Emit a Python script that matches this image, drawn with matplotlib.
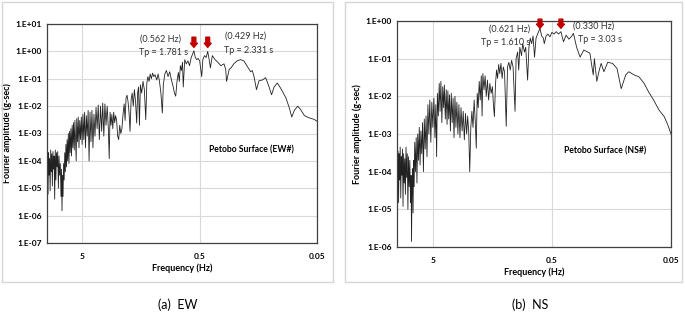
import numpy as np
import matplotlib
matplotlib.use('Agg')
import matplotlib.pyplot as plt
from matplotlib.patches import Rectangle
from matplotlib.ticker import FixedLocator, FuncFormatter, NullLocator

plt.rcParams['font.family'] = ['Lato', 'DejaVu Sans']

# Petobo surface record, EW component (frequency in Hz, amplitude in g-sec)
ew_freq = [10.0, 9.9, 9.8, 9.7, 9.6, 9.5, 9.4, 9.3, 9.2, 9.1,
           9.0, 8.9, 8.8, 8.7, 8.6, 8.5, 8.4, 8.3, 8.2, 8.1,
           8.0, 7.9, 7.8, 7.7, 7.6, 7.52, 7.45, 7.38, 7.3, 7.22,
           7.14, 7.06, 6.98, 6.9, 6.82, 6.74, 6.66, 6.58, 6.5, 6.42,
           6.34, 6.26, 6.18, 6.1, 6.02, 5.94, 5.86, 5.78, 5.7, 5.64,
           5.58, 5.5, 5.42, 5.34, 5.26, 5.18, 5.1, 5.02, 4.94, 4.86,
           4.78, 4.7, 4.62, 4.54, 4.46, 4.38, 4.3, 4.22, 4.14, 4.06,
           3.98, 3.9, 3.82, 3.74, 3.66, 3.58, 3.5, 3.42, 3.35, 3.28,
           3.21, 3.14, 3.07, 3.0, 2.95, 2.9, 2.85, 2.8, 2.75, 2.7,
           2.65, 2.6, 2.55, 2.5, 2.45, 2.4, 2.35, 2.3, 2.25, 2.2,
           2.16, 2.12, 2.08, 2.04, 2.0, 1.96, 1.92, 1.88, 1.84, 1.8,
           1.76, 1.72, 1.69, 1.66, 1.63, 1.6, 1.56, 1.52, 1.48, 1.44,
           1.41, 1.38, 1.35, 1.32, 1.29, 1.26, 1.23, 1.2, 1.16, 1.13,
           1.1, 1.07, 1.04, 1.02, 0.99, 0.96, 0.93, 0.9, 0.87, 0.84,
           0.82, 0.8, 0.78, 0.76, 0.745, 0.73, 0.715, 0.7, 0.69, 0.67,
           0.65, 0.63, 0.61, 0.59, 0.575, 0.56, 0.545, 0.53, 0.515, 0.5,
           0.48, 0.47, 0.455, 0.44, 0.427, 0.415, 0.405, 0.39, 0.37, 0.35,
           0.33, 0.31, 0.3, 0.295, 0.28, 0.27, 0.256, 0.24, 0.224, 0.21,
           0.196, 0.184, 0.178, 0.172, 0.164, 0.156, 0.146, 0.137, 0.128, 0.122,
           0.116, 0.109, 0.102, 0.092, 0.086, 0.082, 0.078, 0.073, 0.069, 0.064,
           0.058, 0.053, 0.05]
ew_amp = [2e-5, 1.5e-4, 6e-6, 2e-4, 3e-5, 1.2e-4, 8e-6, 2.5e-4, 4e-5, 1.8e-4,
          1.2e-5, 2.2e-4, 5e-5, 1.5e-4, 4e-6, 2.5e-4, 2e-5, 2e-4, 6e-5, 2.2e-4,
          1e-5, 1.5e-4, 3e-5, 8e-5, 5e-6, 5e-5, 1.5e-6, 3e-5, 5e-6, 8e-5,
          2e-5, 2e-4, 4e-5, 4e-4, 6e-5, 6e-4, 1e-4, 1e-3, 8e-5, 1.2e-3,
          2e-4, 1.5e-3, 1.5e-4, 2e-3, 3e-4, 2.5e-3, 2.5e-4, 3e-3, 4e-4, 1e-4,
          3.5e-3, 5e-4, 4e-3, 3e-4, 3e-3, 6e-4, 4e-3, 4e-4, 5e-3, 6e-4,
          6e-3, 3e-4, 4.5e-3, 8e-4, 7e-3, 1e-4, 6e-3, 5e-4, 7e-3, 3e-4,
          5e-3, 8e-4, 9e-3, 1.5e-3, 1.1e-2, 6e-4, 1e-2, 1.2e-3, 1.3e-2, 8e-4,
          1.2e-2, 2e-3, 1e-2, 1.5e-3, 1.2e-4, 6e-3, 2e-3, 5e-3, 1.5e-3, 6e-3,
          2.5e-3, 4.5e-3, 3e-3, 8e-4, 6e-4, 2e-3, 1e-3, 1.5e-3, 5e-3, 1.2e-2,
          3e-3, 2e-2, 2.5e-2, 1.5e-2, 6e-3, 1.2e-3, 1.7e-2, 3e-2, 1e-2, 4e-2,
          1.5e-2, 2.4e-3, 3e-2, 5e-2, 2e-3, 6e-2, 3e-2, 8e-2, 4e-2, 3.2e-3,
          7e-2, 0.12, 0.08, 0.15, 0.1, 0.16, 0.12, 0.14, 0.09, 0.15,
          0.08, 0.03, 5.6e-3, 0.06, 0.15, 0.2, 0.12, 0.18, 0.09, 0.05,
          0.03, 0.023, 0.08, 0.17, 0.08, 0.3, 0.2, 0.4, 0.05, 0.5,
          0.35, 0.45, 0.3, 0.6, 0.8, 1.05, 0.6, 0.5, 0.55, 0.45,
          0.12, 0.5, 0.7, 0.6, 1.0, 0.5, 0.25, 0.7, 0.5, 0.4,
          0.3, 0.35, 0.22, 0.08, 0.22, 0.25, 0.35, 0.45, 0.5, 0.45,
          0.28, 0.18, 0.2, 0.12, 0.04, 0.085, 0.09, 0.11, 0.05, 0.026,
          0.05, 0.07, 0.045, 0.02, 8.5e-3, 4e-3, 7e-3, 1e-2, 7.5e-3, 4.5e-3,
          3.7e-3, 3.3e-3, 2.8e-3]

# Petobo surface record, NS component
ns_freq = [10.0, 9.9, 9.8, 9.7, 9.6, 9.5, 9.4, 9.3, 9.2, 9.1,
           9.0, 8.9, 8.8, 8.7, 8.6, 8.5, 8.4, 8.3, 8.2, 8.1,
           8.0, 7.9, 7.8, 7.7, 7.62, 7.55, 7.48, 7.4, 7.33, 7.26,
           7.18, 7.1, 7.0, 6.9, 6.8, 6.7, 6.6, 6.5, 6.4, 6.3,
           6.2, 6.1, 6.0, 5.9, 5.8, 5.7, 5.6, 5.5, 5.4, 5.3,
           5.2, 5.1, 5.0, 4.9, 4.8, 4.72, 4.65, 4.58, 4.5, 4.42,
           4.35, 4.28, 4.2, 4.13, 4.06, 4.0, 3.93, 3.86, 3.8, 3.74,
           3.68, 3.62, 3.56, 3.5, 3.44, 3.38, 3.32, 3.26, 3.2, 3.14,
           3.08, 3.02, 2.96, 2.9, 2.84, 2.78, 2.72, 2.66, 2.6, 2.55,
           2.5, 2.45, 2.4, 2.35, 2.3, 2.25, 2.2, 2.16, 2.12, 2.08,
           2.04, 2.0, 1.96, 1.93, 1.9, 1.86, 1.82, 1.78, 1.74, 1.7,
           1.66, 1.62, 1.58, 1.55, 1.52, 1.49, 1.46, 1.43, 1.4, 1.37,
           1.34, 1.31, 1.28, 1.25, 1.21, 1.18, 1.15, 1.12, 1.09, 1.06,
           1.02, 1.0, 0.97, 0.95, 0.93, 0.9, 0.88, 0.85, 0.83, 0.8,
           0.78, 0.76, 0.74, 0.72, 0.7, 0.68, 0.66, 0.63, 0.61, 0.59,
           0.58, 0.56, 0.54, 0.52, 0.5, 0.48, 0.46, 0.44, 0.42, 0.4,
           0.38, 0.36, 0.34, 0.33, 0.31, 0.29, 0.27, 0.25, 0.24, 0.225,
           0.22, 0.21, 0.2, 0.193, 0.183, 0.17, 0.155, 0.142, 0.131, 0.12,
           0.113, 0.102, 0.093, 0.084, 0.077, 0.07, 0.063, 0.057, 0.053, 0.05]
ns_amp = [2e-4, 4e-5, 3.5e-4, 1.5e-5, 3e-4, 6e-5, 4.5e-4, 2e-5, 2.5e-4, 8e-5,
          4e-4, 1.2e-5, 3e-4, 5e-5, 2.2e-4, 2.5e-5, 4.5e-4, 7e-5, 3e-4, 1e-5,
          2.5e-4, 4e-5, 2e-4, 1.5e-5, 8e-5, 1.4e-6, 3e-5, 1.2e-4, 8e-6, 2e-4,
          4e-5, 6e-4, 1e-4, 8e-4, 5e-5, 1e-3, 2e-4, 1.5e-3, 1.5e-4, 1.2e-3,
          3e-4, 2e-3, 1e-4, 2.5e-3, 4e-4, 3e-3, 2.5e-4, 6e-3, 1e-3, 8e-3,
          6e-4, 7e-3, 1.5e-3, 9e-3, 8e-4, 6e-3, 2.5e-4, 1.2e-2, 3e-3, 2.2e-2,
          4e-3, 2.5e-2, 2e-3, 1.8e-2, 5e-3, 2e-2, 2.5e-3, 1.5e-2, 1.8e-3, 1.4e-2,
          2.5e-3, 1.1e-2, 1.2e-3, 1.2e-2, 2e-3, 9e-3, 8e-4, 1e-2, 1.5e-3, 7e-3,
          1e-3, 6e-3, 8e-4, 5e-3, 1.2e-3, 4e-3, 7e-4, 3.5e-3, 1e-3, 3e-3,
          1.2e-3, 1e-4, 1.5e-3, 4e-3, 1.5e-3, 8e-3, 2e-3, 4.2e-4, 1.2e-2, 5e-3,
          2.5e-2, 8e-3, 3.5e-2, 3e-3, 4e-2, 1.5e-2, 3.5e-2, 1e-2, 2.7e-2, 8e-3,
          2.2e-2, 1.2e-2, 1.8e-2, 6e-3, 2.9e-3, 2e-2, 5e-2, 3e-2, 7e-2, 4e-2,
          7.5e-2, 3e-2, 6e-2, 4.5e-2, 1.6e-3, 6e-2, 8e-2, 5e-2, 9e-2, 6e-2,
          4e-3, 0.1, 0.15, 0.05, 0.2, 0.12, 0.25, 0.15, 0.2, 0.027,
          0.2, 0.35, 0.25, 0.4, 0.11, 0.35, 0.45, 0.64, 0.4, 0.35,
          0.25, 0.4, 0.45, 0.38, 0.5, 0.45, 0.52, 0.45, 0.52, 0.28,
          0.42, 0.33, 0.4, 0.47, 0.2, 0.11, 0.17, 0.15, 0.14, 0.037,
          0.1, 0.025, 0.05, 0.075, 0.045, 0.08, 0.075, 0.055, 0.016, 0.037,
          0.045, 0.037, 0.033, 0.022, 0.013, 0.008, 4.3e-3, 2.9e-3, 1.7e-3, 1e-3]

x_ticks = [5, 0.5, 0.05]
x_tick_labels = ['5', '0.5', '0.05']

ew_decades = list(range(-7, 2))
ns_decades = list(range(-6, 1))

# peak arrows: frequency, tip amplitude, tail amplitude
ew_arrows = [(0.56, 1.4, 3.3), (0.427, 1.4, 3.3)]
ns_arrows = [(0.63, 0.64, 1.12), (0.42, 0.64, 1.12)]

ew_notes = [('(0.562 Hz)', 0.422, 0.932), ('Tp = 1.781 s', 0.43, 0.868),
            ('(0.429 Hz)', 0.737, 0.945), ('Tp = 2.331 s', 0.748, 0.877)]
ns_notes = [('(0.621 Hz)', 0.412, 0.965), ('Tp = 1.610 s', 0.398, 0.903),
            ('(0.330 Hz)', 0.719, 0.978), ('Tp = 3.03 s', 0.741, 0.92)]


def exp_label(v, pos):
    return '1.E%+03d' % int(round(np.log10(v)))


def draw_panel(ax, freq, amp, decades, arrows, notes, name):
    ax.plot(freq, amp, color='#222222', lw=0.6)
    ax.set_xscale('log')
    ax.set_yscale('log')
    ax.set_xlim(10, 0.05)
    ax.set_ylim(10.0 ** decades[0], 10.0 ** decades[-1])
    ax.xaxis.set_major_locator(FixedLocator(x_ticks))
    ax.set_xticklabels(x_tick_labels)
    ax.yaxis.set_major_locator(FixedLocator([10.0 ** e for e in decades]))
    ax.yaxis.set_major_formatter(FuncFormatter(exp_label))
    ax.xaxis.set_minor_locator(NullLocator())
    ax.yaxis.set_minor_locator(NullLocator())
    ax.grid(True, color='#d9d9d9', lw=0.8)
    ax.set_axisbelow(True)
    ax.tick_params(length=0, labelsize=6)
    ax.tick_params(axis='x', pad=7)
    ax.tick_params(axis='y', pad=4)
    for lab in ax.get_xticklabels() + ax.get_yticklabels():
        lab.set_fontweight('bold')
    for sp in ax.spines.values():
        sp.set_color('#404040')
        sp.set_linewidth(0.9)
    ax.set_xlabel('Frequency (Hz)', fontsize=6.5, fontweight='bold', labelpad=3)
    ax.set_ylabel('Fourier amplitude (g-sec)', fontsize=6.5, fontweight='bold', labelpad=2)

    for f, tip, tail in arrows:
        ax.annotate('', xy=(f, tip), xytext=(f, tail), annotation_clip=False,
                    arrowprops=dict(arrowstyle='simple,head_length=0.6,head_width=1.0,tail_width=0.55',
                                    color='#c00000', mutation_scale=5,
                                    shrinkA=0, shrinkB=0))
    for txt, x, y in notes:
        ax.text(x, y, txt, transform=ax.transAxes, ha='center', va='center',
                fontsize=6.5, color='#333333')
    ax.text(0.759, 0.425, name, transform=ax.transAxes, ha='center', va='center',
            fontsize=6.2, fontweight='bold')


fig = plt.figure(figsize=(6.85, 3.2), dpi=100)

fig.patches.append(Rectangle((2 / 685, 0.119), 331 / 685, 0.875, transform=fig.transFigure,
                             fill=False, edgecolor='#d6d6d6', lw=1))
fig.patches.append(Rectangle((345 / 685, 0.119), 337 / 685, 0.875, transform=fig.transFigure,
                             fill=False, edgecolor='#d6d6d6', lw=1))

ax1 = fig.add_axes([47 / 685, 77 / 320, 270 / 685, 219 / 320])
draw_panel(ax1, ew_freq, ew_amp, ew_decades, ew_arrows, ew_notes, 'Petobo Surface (EW#)')

ax2 = fig.add_axes([397 / 685, 73 / 320, 274 / 685, 226 / 320])
draw_panel(ax2, ns_freq, ns_amp, ns_decades, ns_arrows, ns_notes, 'Petobo Surface (NS#)')

fig.text(178 / 685, 0.047, '(a)  EW', ha='center', va='center', fontsize=9)
fig.text(530 / 685, 0.047, '(b)  NS', ha='center', va='center', fontsize=9)

fig.savefig('out.png', dpi=100)
